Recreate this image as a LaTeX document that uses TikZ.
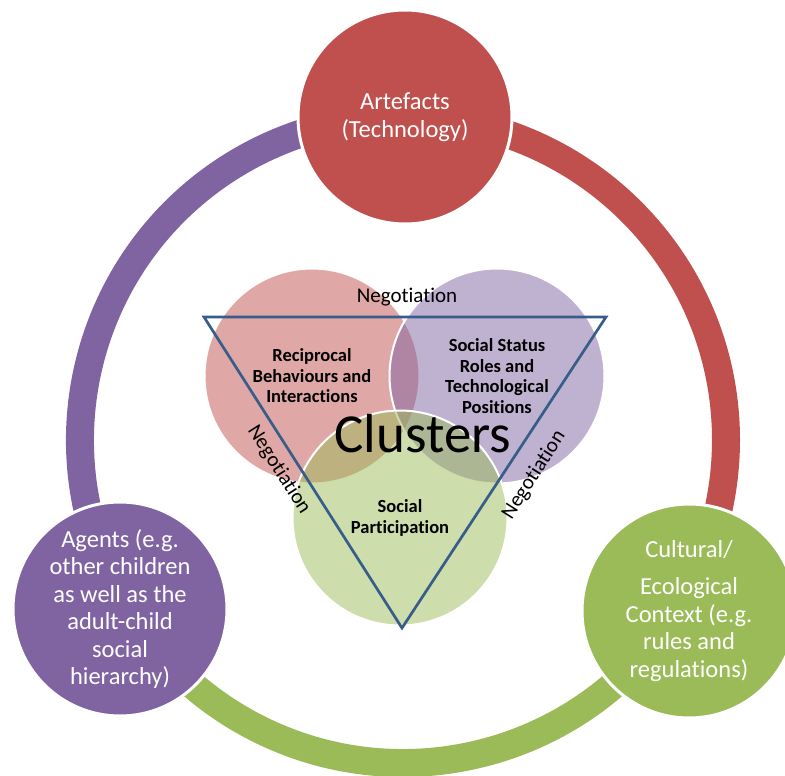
\documentclass[tikz,border=0pt]{standalone}
\usepackage{fontspec}
\setmainfont{Carlito}[Ligatures={NoCommon}]
\definecolor{accred}{HTML}{C0504D}
\definecolor{accpurple}{HTML}{8064A2}
\definecolor{accgreen}{HTML}{9BBB59}
\definecolor{triblue}{HTML}{385D8A}
\tikzset{
  bigdisc/.style={circle, minimum size=214pt, draw=white, line width=3pt, text=white, align=center, font=\fontsize{24.5}{27.5}\selectfont},
  venn/.style={circle, minimum size=215pt, draw=white, line width=2pt, fill opacity=0.5, text opacity=1, align=center, font=\fontsize{18.5}{20.5}\selectfont\bfseries},
  ring/.style={line width=28pt},
  negot/.style={font=\fontsize{21}{24}\selectfont}
}
\begin{document}
\begin{tikzpicture}[x=1pt, y=1pt, yscale=-1, inner sep=0pt, outer sep=0pt]
  \useasboundingbox (0,0) rectangle (785,776);
  \clip (0,0) rectangle (785,776);
  \coordinate (hub) at (403,440);
  \draw[ring, accred] (hub) ++(-90:323) arc(-90:30:323);
  \draw[ring, accgreen] (hub) ++(30:323) arc(30:150:323);
  \draw[ring, accpurple] (hub) ++(150:323) arc(150:270:323);
  \node[bigdisc, fill=accred] (artefacts) at (405,117) {Artefacts\\(Technology)};
  \node[bigdisc, fill=accpurple] (agents) at (120,609) {Agents (e.g.\\other children\\as well as the\\adult-child\\social\\hierarchy)};
  \node[bigdisc, fill=accgreen] (context) at (689,611) {Cultural/\\[10pt]Ecological\\Context (e.g.\\rules and\\regulations)};
  \node[venn, fill=accred] (recip) at (312,376) {Reciprocal\\Behaviours and\\Interactions};
  \node[venn, fill=accpurple] (status) at (497,376) {Social Status\\Roles and\\Technological\\Positions};
  \node[venn, fill=accgreen] (partic) at (400,518) {Social\\Participation};
  \coordinate (tl) at (204,317);
  \coordinate (tr) at (606,317);
  \coordinate (bt) at (402,628);
  \draw[triblue, line width=2.7pt, line join=miter] (tl) -- (tr) -- (bt) -- cycle;
  \node[font=\fontsize{55}{60}\selectfont, anchor=base] (clusters) at (423,452) {Clusters};
  \node[negot, anchor=base] (negtop) at (407,302) {Negotiation};
  \node[negot, rotate=-57.5] (negleft) at (279,470) {Negotiation};
  \node[negot, rotate=57.5] (negright) at (534,475) {Negotiation};
\end{tikzpicture}
\end{document}
